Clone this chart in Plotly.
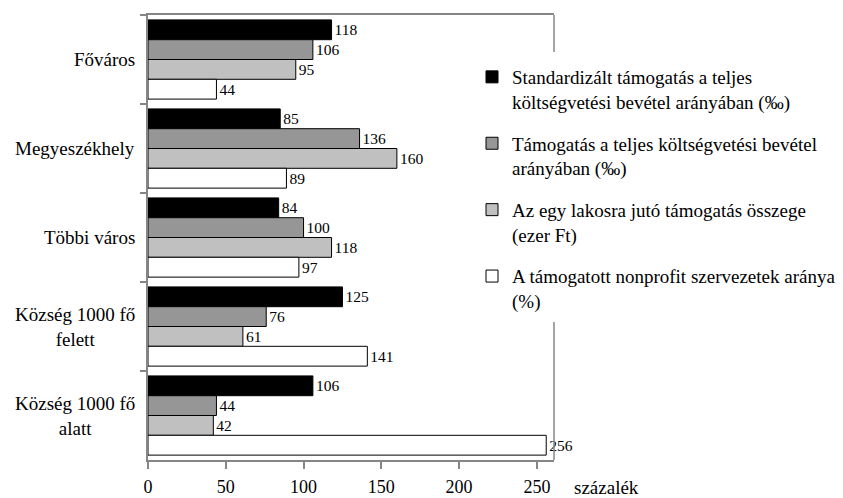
import plotly.graph_objects as go

# Settlement categories (top to bottom)
categories = ["Főváros", "Megyeszékhely", "Többi város",
              "Község 1000 fő<br>felett", "Község 1000 fő<br>alatt"]

# Series names
series_names = [
    "Standardizált támogatás a teljes<br>költségvetési bevétel arányában (‰)",
    "Támogatás a teljes költségvetési bevétel<br>arányában (‰)",
    "Az egy lakosra jutó támogatás összege<br>(ezer Ft)",
    "A támogatott nonprofit szervezetek aránya<br>(%)",
]

# Values per series (százalék)
standardized = [118, 85, 84, 125, 106]
support_ratio = [106, 136, 100, 76, 44]
per_capita = [95, 160, 118, 61, 42]
supported_share = [44, 89, 97, 141, 256]

series_values = [standardized, support_ratio, per_capita, supported_share]
series_colors = ["#000000", "#969696", "#c0c0c0", "#ffffff"]

x_ticks = [0, 50, 100, 150, 200, 250]
x_title = "százalék"

FONT = "Liberation Serif"
AXIS_COLOR = "#868686"

fig = go.Figure()
for i, (name, vals, col) in enumerate(zip(series_names, series_values, series_colors)):
    fig.add_trace(go.Bar(
        y=categories, x=vals, name=name, orientation="h",
        marker=dict(color=col, line=dict(color="#000000", width=1)),
        text=[str(v) for v in vals], textposition="outside",
        textfont=dict(family=FONT, size=15.5, color="#000000"),
        constraintext="none", cliponaxis=False,
        legendgroup=f"g{i}",
    ))

# Plot area in pixels: x 148..554, y 15..460
W, H = 843, 498
L, R, T, B = 148, 554, 15, 460
pw, ph = R - L, B - T


def py(v):
    return (B - v) / ph


def px(v):
    return (v - L) / pw


fig.update_layout(
    width=W, height=H,
    margin=dict(l=L, r=W - R, t=T, b=H - B, pad=0, autoexpand=False),
    paper_bgcolor="white", plot_bgcolor="white",
    barmode="group", bargap=0.11, bargroupgap=0,
    font=dict(family=FONT, color="#000000"),
    showlegend=True,
    legend=dict(
        x=px(472), y=py(58), xanchor="left", yanchor="top",
        font=dict(family=FONT, size=19, color="#000000"),
        valign="top", tracegroupgap=14, bgcolor="rgba(0,0,0,0)",
        traceorder="grouped",
    ),
    xaxis=dict(
        range=[0, 261], tickvals=x_ticks, ticks="outside", ticklen=7,
        tickcolor=AXIS_COLOR, tickwidth=1.5,
        showline=True, linecolor=AXIS_COLOR, linewidth=1.5, mirror=True,
        showgrid=False, zeroline=False,
        tickfont=dict(family=FONT, size=18, color="#000000"),
        ticklabelstandoff=3,
    ),
    yaxis=dict(
        autorange="reversed", type="category",
        showticklabels=False, ticks="outside", tickson="boundaries",
        ticklen=6, tickcolor=AXIS_COLOR, tickwidth=1.5,
        showline=True, linecolor=AXIS_COLOR, linewidth=1.5,
        showgrid=False, zeroline=False,
    ),
)

# Right frame segments, interrupted behind the legend
for y0, y1 in [(15, 52), (322, 460)]:
    fig.add_shape(type="line", xref="paper", yref="paper",
                  x0=1, x1=1, y0=py(y0), y1=py(y1),
                  line=dict(color=AXIS_COLOR, width=1.5))

# Category labels, right-aligned block with centred lines
for c in categories:
    fig.add_annotation(
        x=0, xref="paper", y=c, yref="y", xshift=-11,
        text=c, showarrow=False, xanchor="right", align="center",
        font=dict(family=FONT, size=19, color="#000000"),
    )

# Axis unit label
fig.add_annotation(
    x=px(572), xref="paper", y=py(487), yref="paper",
    text=x_title, showarrow=False, xanchor="left", yanchor="middle",
    font=dict(family=FONT, size=19, color="#000000"),
)

fig.write_html("out.html")
